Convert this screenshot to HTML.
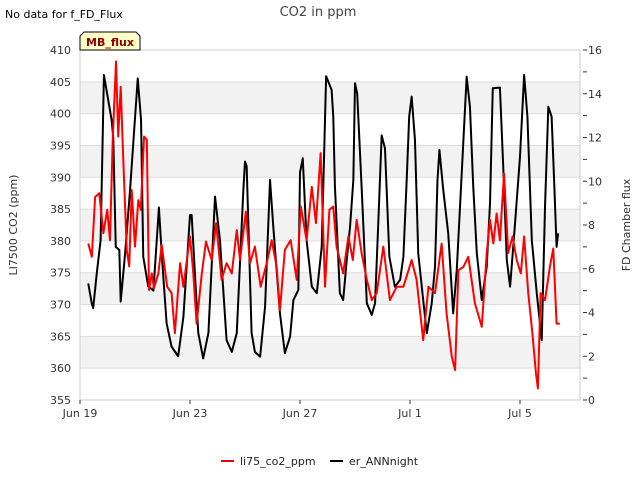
<!DOCTYPE html>
<html><head><meta charset="utf-8"><style>
body{margin:0;background:#fff;font-family:"Liberation Sans","DejaVu Sans",sans-serif}
text{font-family:"DejaVu Sans","Liberation Sans",sans-serif}
</style></head><body>
<svg id="chart" width="640" height="480" viewBox="0 0 640 480" xmlns="http://www.w3.org/2000/svg">
<text x="5" y="18" font-size="11" fill="#000">No data for f_FD_Flux</text>
<text x="318" y="16" font-size="13" fill="#444" text-anchor="middle">CO2 in ppm</text>
<g id="bands"></g>
<g id="grid"></g>
<rect x="80" y="50" width="500" height="350" fill="none" stroke="#ccc"/>
<g id="lticks"></g>
<g id="rticks"></g>
<g id="xticks"></g>
<g id="series"></g>
<text transform="translate(17,225) rotate(-90)" font-size="11" fill="#333" text-anchor="middle">LI7500 CO2 (ppm)</text>
<text transform="translate(630,225) rotate(-90)" font-size="11" fill="#333" text-anchor="middle">FD Chamber flux</text>
<g>
<path d="M80,50 L80,36 L84,32 L136,32 L140,36 L140,50 Z" fill="#ffffc8" stroke="#000"/>
<text x="110" y="46" font-size="11" font-weight="bold" fill="#8b0000" text-anchor="middle">MB_flux</text>
</g>
<g>
<g><line x1="221" y1="461" x2="234" y2="461" stroke="#e00" stroke-width="2"/><text x="240" y="465" font-size="11" fill="#222">li75_co2_ppm</text></g>
<g><line x1="330" y1="461" x2="343" y2="461" stroke="#000" stroke-width="2"/><text x="349" y="465" font-size="11" fill="#222">er_ANNnight</text></g>
</g>
</svg>
<script>
const xTickLabels=["Jun 19","Jun 23","Jun 27","Jul 1","Jul 5"];
const xTickDays=[0,4,8,12,16];
const leftTicks=[355,360,365,370,375,380,385,390,395,400,405,410];
const rightTicks=[0,2,4,6,8,10,12,14,16];
const blackT=[0.30,0.43,0.48,0.61,0.75,0.87,1.15,1.21,1.30,1.43,1.48,1.64,1.82,2.10,2.22,2.30,2.48,2.67,2.87,2.97,3.15,3.33,3.57,3.76,4.00,4.06,4.30,4.48,4.67,4.91,5.09,5.33,5.52,5.70,5.94,6.00,6.06,6.24,6.36,6.55,6.73,6.91,7.03,7.27,7.45,7.64,7.76,7.94,8.00,8.10,8.24,8.43,8.61,8.79,8.95,9.15,9.21,9.27,9.45,9.57,9.70,9.82,9.94,10.00,10.08,10.24,10.43,10.61,10.73,10.85,10.97,11.09,11.25,11.45,11.64,11.76,11.88,11.97,12.06,12.18,12.30,12.48,12.61,12.79,12.91,13.00,13.07,13.21,13.39,13.57,13.70,13.85,14.06,14.18,14.30,14.43,14.61,14.79,14.91,15.01,15.27,15.39,15.52,15.64,15.82,16.00,16.15,16.27,16.43,16.61,16.79,16.91,17.03,17.15,17.24,17.33,17.39];
const blackV=[5.33,4.4,4.2,5.8,7.3,14.86,12.8,12.0,7.0,6.86,4.5,6.7,9.6,14.7,12.8,6.55,5.2,5.0,8.8,6.7,3.5,2.44,2.0,3.8,8.46,8.46,3.07,1.9,3.07,9.3,7.3,2.74,2.2,3.05,9.6,10.9,10.7,3.06,2.2,1.98,4.27,10.06,7.9,3.97,2.14,2.9,4.57,5.03,10.4,11.05,7.3,5.18,4.88,7.0,14.8,14.17,12.95,9.75,4.88,4.57,6.4,7.92,10.06,14.48,14.0,9.75,4.42,3.89,4.43,8.2,12.1,11.5,6.55,5.18,5.49,6.55,10.06,12.95,13.87,11.9,6.7,4.57,3.05,4.42,6.1,10.06,11.43,9.6,7.62,3.96,5.94,9.6,14.78,13.4,9.75,6.7,4.57,6.1,9.0,14.25,14.28,10.67,6.4,5.18,8.08,11.12,14.86,12.95,7.3,4.88,2.74,8.84,13.4,12.95,10.06,7.0,7.62];
const redT=[0.30,0.43,0.55,0.70,0.85,0.99,1.09,1.19,1.31,1.39,1.48,1.57,1.70,1.79,1.88,2.00,2.12,2.21,2.33,2.43,2.51,2.61,2.69,2.85,2.97,3.17,3.33,3.45,3.64,3.76,4.00,4.12,4.24,4.43,4.58,4.79,4.95,5.15,5.33,5.52,5.70,5.82,6.03,6.18,6.36,6.57,6.79,6.97,7.15,7.27,7.45,7.66,7.88,8.03,8.24,8.43,8.58,8.75,8.91,9.07,9.21,9.33,9.57,9.76,9.92,10.06,10.24,10.43,10.61,10.79,11.03,11.27,11.52,11.76,12.06,12.24,12.48,12.67,12.91,13.15,13.33,13.52,13.64,13.76,13.94,14.12,14.36,14.61,14.79,14.91,15.03,15.15,15.27,15.42,15.57,15.73,15.88,16.03,16.15,16.30,16.45,16.58,16.65,16.75,16.91,17.09,17.21,17.33,17.45];
const redV=[379.6,377.5,386.9,387.5,381.2,384.9,380.1,395.9,408.2,396.4,404.2,393.2,378.6,376.0,388.0,379.1,386.4,384.9,396.4,395.9,372.3,374.9,372.6,374.9,379.4,372.8,371.8,365.5,376.5,372.8,380.7,374.9,367.0,374.9,379.9,377.0,382.8,373.9,376.5,374.9,381.7,377.0,384.6,376.5,379.1,372.8,376.5,380.1,376.0,369.1,378.6,380.1,373.9,385.4,380.1,388.5,382.8,393.8,372.8,384.9,385.4,379.1,374.9,380.7,377.0,383.3,378.1,373.9,370.7,371.8,379.1,370.7,372.8,372.8,377.0,373.9,364.4,372.8,371.8,379.6,368.6,361.8,359.7,375.4,375.9,377.5,370.2,366.5,378.1,383.3,379.6,384.3,380.1,390.6,378.1,380.7,377.0,374.9,380.7,371.8,365.5,359.2,356.8,371.8,370.7,376.0,378.8,367.0,367.0];
const NS="http://www.w3.org/2000/svg";
const X0=80,X1=580,Y0=50,Y1=400;
const xs=d=>X0+d*27.5;
const yl=v=>Y1-(v-355)*(Y1-Y0)/55;
const yr=v=>Y1-v*(Y1-Y0)/16;
function mk(tag,attrs,parent){const e=document.createElementNS(NS,tag);for(const k in attrs)e.setAttribute(k,attrs[k]);parent.appendChild(e);return e;}
const bands=document.getElementById('bands'),grid=document.getElementById('grid');
[360,370,380,390,400].forEach(v=>{const r=mk('rect',{x:X0,y:yl(v+5),width:X1-X0,height:yl(v)-yl(v+5),fill:'#f2f2f2'},bands);

});
const lt=document.getElementById('lticks');
leftTicks.forEach(v=>{const l=mk('line',{x1:X0,x2:X1,y1:yl(v),y2:yl(v),stroke:'#ddd'},grid);


const t=mk('text',{x:71,y:yl(v)+4,'font-size':11,fill:'#333','text-anchor':'end'},lt);t.textContent=v;

});
const rt=document.getElementById('rticks');
for(let v=0;v<=16;v++){const tk=mk('line',{x1:X1+3,x2:X1+7,y1:yr(v),y2:yr(v),stroke:'#333'},rt);

}
rightTicks.forEach(v=>{const t=mk('text',{x:588,y:yr(v)+4,'font-size':11,fill:'#333'},rt);t.textContent=v;

});
const xt=document.getElementById('xticks');
xTickDays.forEach((d,i)=>{const tk=mk('line',{x1:xs(d),x2:xs(d),y1:Y1,y2:Y1+4,stroke:'#333'},xt);


const t=mk('text',{x:xs(d),y:417,'font-size':11,fill:'#333','text-anchor':'middle'},xt);t.textContent=xTickLabels[i];

});
const s=document.getElementById('series');
const pb=mk('polyline',{points:blackT.map((t,i)=>xs(t)+','+yr(blackV[i])).join(' '),fill:'none',stroke:'#000','stroke-width':2,'stroke-linejoin':'round'},s);


const pr=mk('polyline',{points:redT.map((t,i)=>xs(t)+','+yl(redV[i])).join(' '),fill:'none',stroke:'#f00','stroke-width':2,'stroke-linejoin':'round'},s);


</script>
</body></html>
